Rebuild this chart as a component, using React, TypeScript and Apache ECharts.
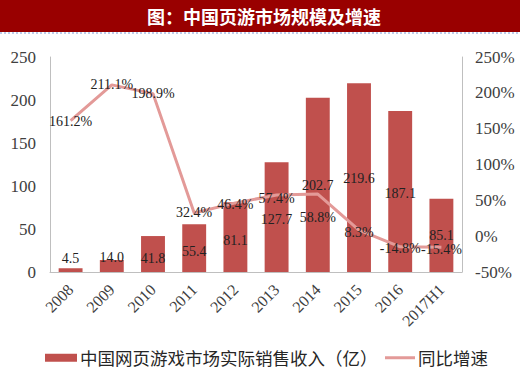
import React, { useEffect, useRef } from "react";
import * as echarts from "echarts";

const categories = ["2008", "2009", "2010", "2011", "2012", "2013", "2014", "2015", "2016", "2017H1"];
const revenue = [4.5, 14.0, 41.8, 55.4, 81.1, 127.7, 202.7, 219.6, 187.1, 85.1];
const growth = [161.2, 211.1, 198.9, 32.4, 46.4, 57.4, 58.8, 8.3, -14.8, -15.4];
const revenueLabelOffsets = [-12, -8, 4, 3, 3, 2, 1, 1, 2, 0];
const growthLabelOffsets = [1, 0, 0, 0, 2, 3, 23, 2, 2, 2];
const barName = "中国网页游戏市场实际销售收入（亿）";
const lineName = "同比增速";
const titleText = "图：中国页游市场规模及增速";

const SERIF = "'Liberation Serif', 'Times New Roman', serif";
const CJK = "'Noto Sans CJK SC', sans-serif";

export default function App() {
  const ref = useRef<HTMLDivElement>(null);
  useEffect(() => {
    if (!ref.current) return;
    const chart = echarts.init(ref.current, undefined, { renderer: "svg" });
    const option: any = {
      animation: false,
      backgroundColor: "#ffffff",
      title: {
        text: titleText,
        left: 264,
        textAlign: "center",
        top: 4,
        padding: 0,
        z: 20,
        textStyle: { color: "#ffffff", fontSize: 18, fontWeight: "bold", fontFamily: CJK, lineHeight: 24 },
      },
      graphic: [
        { type: "rect", left: 0, top: 0, shape: { width: 520, height: 32 }, style: { fill: "#990000" }, z: 0 },
        {
          type: "line",
          shape: { x1: 0, y1: 33, x2: 520, y2: 33 },
          style: { stroke: "#7b9ad8", lineWidth: 1, lineDash: [2, 2] },
          z: 0,
        },
      ],
      grid: { left: 50, right: 58, top: 57, bottom: 101, containLabel: false },
      legend: [
        {
          data: [{ name: barName, icon: "rect" }],
          left: 45,
          top: 349,
          itemWidth: 32,
          itemHeight: 8,
          itemGap: 4,
          textStyle: { fontFamily: CJK, fontSize: 17.5, color: "#262626", padding: [0, 0, 0, -2] },
          padding: 0,
        },
        {
          data: [{ name: lineName, icon: "rect" }],
          left: 385,
          top: 349,
          itemWidth: 30,
          itemHeight: 3,
          textStyle: { fontFamily: CJK, fontSize: 17.5, color: "#262626", padding: [0, 0, 0, -2] },
          padding: 0,
        },
      ],
      xAxis: {
        type: "category",
        data: categories,
        axisLine: { show: true, lineStyle: { color: "#bfbfbf", width: 1 } },
        axisTick: { show: false },
        axisLabel: {
          rotate: 45,
          fontFamily: SERIF,
          fontSize: 16,
          color: "#404040",
          margin: 15,
          interval: 0,
        },
      },
      yAxis: [
        {
          type: "value",
          min: 0,
          max: 250,
          interval: 50,
          axisLine: { show: true, lineStyle: { color: "#bfbfbf", width: 1 } },
          axisTick: { show: false },
          splitLine: { show: false },
          axisLabel: { fontFamily: SERIF, fontSize: 17, color: "#404040", margin: 14 },
        },
        {
          type: "value",
          min: -50,
          max: 250,
          interval: 50,
          position: "right",
          axisLine: { show: true, lineStyle: { color: "#bfbfbf", width: 1 } },
          axisTick: { show: false },
          splitLine: { show: false },
          axisLabel: { fontFamily: SERIF, fontSize: 17, color: "#404040", margin: 13, formatter: "{value}%" },
        },
      ],
      series: [
        {
          name: barName,
          type: "bar",
          yAxisIndex: 0,
          barWidth: "58%",
          itemStyle: { color: "#c0504d" },
          data: revenue.map((v, i) => ({
            value: v,
            label: { offset: [0, revenueLabelOffsets[i]] },
          })),
          label: {
            show: true,
            position: "inside",
            fontFamily: SERIF,
            fontSize: 14,
            color: "#222222",
            formatter: (p: any) => Number(p.value).toFixed(1),
          },
          z: 2,
        },
        {
          name: lineName,
          type: "line",
          yAxisIndex: 1,
          smooth: false,
          symbol: "circle",
          symbolSize: 0.1,
          lineStyle: { color: "#e39a98", width: 3 },
          itemStyle: { color: "#e39a98" },
          data: growth.map((v, i) => ({
            value: v,
            label: { offset: [0, growthLabelOffsets[i]] },
          })),
          label: {
            show: true,
            position: "inside",
            fontFamily: SERIF,
            fontSize: 14,
            color: "#222222",
            formatter: (p: any) => Number(p.value).toFixed(1) + "%",
          },
          z: 3,
        },
      ],
    };
    chart.setOption(option);
    return () => chart.dispose();
  }, []);
  return (
    <div
      ref={ref}
      style={{ position: "fixed", left: 0, top: 0, width: 520, height: 373, background: "#fff" }}
    />
  );
}
